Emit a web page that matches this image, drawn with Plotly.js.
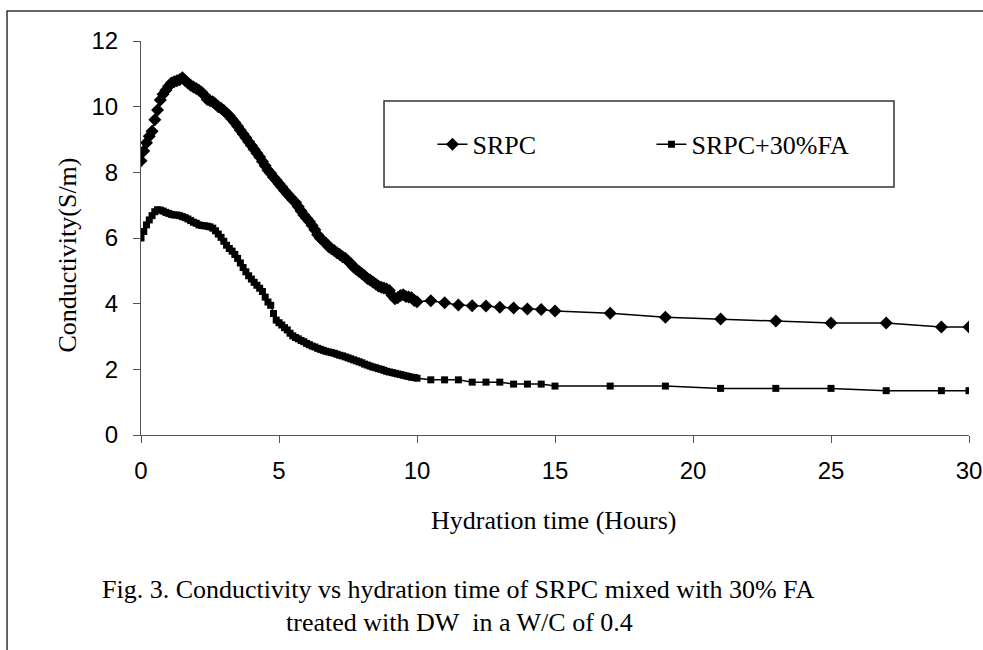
<!DOCTYPE html>
<html>
<head>
<meta charset="utf-8">
<script src="https://cdn.plot.ly/plotly-3.0.1.min.js"></script>
<style>
html,body{margin:0;padding:0;background:#fff;}
#chart{width:983px;height:650px;}
</style>
</head>
<body>
<div id="chart"></div>
<script>
// Hydration time (hours)
const timeSRPC = [0,0.1,0.2,0.3,0.4,0.5,0.6,0.7,0.8,0.9,1.0,1.1,1.2,1.3,1.4,1.5,1.6,1.7,1.8,1.9,
  2.0,2.1,2.2,2.3,2.4,2.5,2.6,2.7,2.8,2.9,3.0,3.1,3.2,3.3,3.4,3.5,3.6,3.7,3.8,3.9,
  4.0,4.1,4.2,4.3,4.4,4.5,4.6,4.7,4.8,4.9,5.0,5.1,5.2,5.3,5.4,5.5,5.6,5.7,5.8,5.9,
  6.0,6.1,6.2,6.3,6.4,6.5,6.6,6.7,6.8,6.9,7.0,7.1,7.2,7.3,7.4,7.5,7.6,7.7,7.8,7.9,
  8.0,8.1,8.2,8.3,8.4,8.5,8.6,8.7,8.8,8.9,9.0,9.1,9.2,9.3,9.4,9.5,9.6,9.7,9.8,9.9,
  10.0,10.5,11,11.5,12,12.5,13,13.5,14,14.5,15,17,19,21,23,25,27,29,30];
// Conductivity (S/m), SRPC
const condSRPC = [8.35,8.65,8.9,9.1,9.25,9.6,9.9,10.2,10.38,10.5,10.62,10.72,10.76,10.79,10.82,10.88,10.8,10.72,10.65,10.6,
  10.55,10.5,10.44,10.35,10.22,10.18,10.15,10.08,10.0,9.95,9.88,9.8,9.72,9.62,9.52,9.4,9.28,9.17,9.05,8.93,
  8.82,8.7,8.58,8.47,8.33,8.2,8.06,7.97,7.85,7.76,7.65,7.55,7.45,7.35,7.26,7.16,7.08,6.95,6.82,6.7,
  6.6,6.5,6.38,6.25,6.1,5.99,5.92,5.84,5.73,5.67,5.62,5.55,5.5,5.43,5.38,5.3,5.22,5.12,5.05,4.98,
  4.92,4.85,4.77,4.72,4.66,4.6,4.54,4.5,4.48,4.45,4.4,4.25,4.15,4.18,4.25,4.27,4.22,4.2,4.18,4.1,
  4.06,4.09,4.03,3.96,3.94,3.93,3.89,3.87,3.84,3.82,3.78,3.71,3.59,3.53,3.47,3.41,3.41,3.29,3.29];

const timeFA = [0,0.1,0.2,0.3,0.4,0.5,0.6,0.7,0.8,0.9,1.0,1.1,1.2,1.3,1.4,1.5,1.6,1.7,1.8,1.9,
  2.0,2.1,2.2,2.3,2.4,2.5,2.6,2.7,2.8,2.9,3.0,3.1,3.2,3.3,3.4,3.5,3.6,3.7,3.8,3.9,
  4.0,4.1,4.2,4.3,4.4,4.5,4.6,4.7,4.8,4.9,5.0,5.1,5.2,5.3,5.4,5.5,5.6,5.7,5.8,5.9,
  6.0,6.1,6.2,6.3,6.4,6.5,6.6,6.7,6.8,6.9,7.0,7.1,7.2,7.3,7.4,7.5,7.6,7.7,7.8,7.9,
  8.0,8.1,8.2,8.3,8.4,8.5,8.6,8.7,8.8,8.9,9.0,9.1,9.2,9.3,9.4,9.5,9.6,9.7,9.8,9.9,
  10.0,10.5,11,11.5,12,12.5,13,13.5,14,14.5,15,17,19,21,23,25,27,29,30];
// Conductivity (S/m), SRPC+30%FA
const condFA = [6.0,6.2,6.4,6.55,6.68,6.8,6.86,6.85,6.82,6.78,6.75,6.72,6.7,6.7,6.68,6.65,6.62,6.58,6.53,6.48,
  6.45,6.4,6.38,6.37,6.36,6.34,6.3,6.22,6.12,6.02,5.9,5.78,5.68,5.6,5.5,5.38,5.24,5.1,4.97,4.85,
  4.75,4.65,4.56,4.47,4.37,4.2,4.05,3.95,3.7,3.5,3.42,3.35,3.27,3.2,3.1,3.02,2.97,2.93,2.88,2.84,
  2.79,2.75,2.71,2.68,2.64,2.61,2.58,2.55,2.53,2.51,2.49,2.46,2.43,2.41,2.38,2.35,2.32,2.29,2.26,2.23,
  2.2,2.16,2.13,2.1,2.07,2.05,2.02,2.0,1.97,1.94,1.92,1.9,1.88,1.86,1.84,1.82,1.8,1.78,1.76,1.75,
  1.73,1.68,1.68,1.68,1.61,1.61,1.61,1.55,1.55,1.55,1.49,1.49,1.49,1.42,1.42,1.42,1.35,1.35,1.35];

const seriesNames = ["SRPC", "SRPC+30%FA"];
const xTicks = [0,5,10,15,20,25,30];
const yTicks = [0,2,4,6,8,10,12];
const xTitle = "Hydration time (Hours)";
const yTitle = "Conductivity(S/m)";
const caption1 = "Fig. 3. Conductivity vs hydration time of SRPC mixed with 30% FA";
const caption2 = "treated with DW&nbsp;&nbsp;in a W/C of 0.4";

const serif = "Liberation Serif, Times New Roman, serif";
const sans = "Liberation Sans, Arial, sans-serif";

const traces = [
  {x: timeSRPC, y: condSRPC, name: seriesNames[0], type: "scatter", mode: "lines+markers",
   line: {color: "#000", width: 1.5}, marker: {symbol: "diamond", size: 10, color: "#000"}},
  {x: timeFA, y: condFA, name: seriesNames[1], type: "scatter", mode: "lines+markers",
   line: {color: "#000", width: 1.5}, marker: {symbol: "square", size: 7, color: "#000"}}
];

const layout = {
  width: 983, height: 650,
  margin: {l: 141, r: 14, t: 41, b: 215},
  paper_bgcolor: "#fff", plot_bgcolor: "#fff",
  showlegend: true,
  legend: {orientation: "h", x: 0.352, y: 0.738, xanchor: "left", yanchor: "middle",
    entrywidth: 174, entrywidthmode: "pixels",
    font: {family: serif, size: 26, color: "#000"}, bgcolor: "rgba(0,0,0,0)", borderwidth: 0},
  xaxis: {range: [0, 30], tickvals: xTicks, ticktext: xTicks.map(String),
    showgrid: false, zeroline: false, showline: true, linecolor: "#555", linewidth: 1,
    ticks: "outside", ticklen: 7, tickcolor: "#555", ticklabelstandoff: 7,
    tickfont: {family: sans, size: 24, color: "#000"}},
  yaxis: {range: [0, 12], tickvals: yTicks, ticktext: yTicks.map(String),
    showgrid: false, zeroline: false, showline: true, linecolor: "#555", linewidth: 1,
    ticks: "outside", ticklen: 7, tickcolor: "#555", ticklabelstandoff: 10,
    tickfont: {family: sans, size: 24, color: "#000"}},
  shapes: [
    {type: "rect", xref: "paper", yref: "paper", x0: -0.1618, x1: 1.06, y0: -0.6, y1: 1.0761,
     line: {color: "#333", width: 1.5}, fillcolor: "rgba(0,0,0,0)", layer: "below"},
    {type: "rect", xref: "paper", yref: "paper", x0: 0.2935, x1: 0.9094, y0: 0.6294, y1: 0.8477,
     line: {color: "#333", width: 1.5}, fillcolor: "rgba(0,0,0,0)", layer: "below"}
  ],
  annotations: [
    {text: yTitle, xref: "paper", yref: "paper", x: -0.0882, y: 0.458, xanchor: "center", yanchor: "middle",
     textangle: -90, showarrow: false, font: {family: serif, size: 26, color: "#000"}},
    {text: xTitle, xref: "paper", yref: "paper", x: 0.499, y: -0.218, xanchor: "center", yanchor: "middle",
     showarrow: false, font: {family: serif, size: 26, color: "#000"}},
    {text: caption1, xref: "paper", yref: "paper", x: 0.3830, y: -0.393, xanchor: "center", yanchor: "middle",
     showarrow: false, font: {family: serif, size: 26, color: "#000"}},
    {text: caption2, xref: "paper", yref: "paper", x: 0.385, y: -0.475, xanchor: "center", yanchor: "middle",
     showarrow: false, font: {family: serif, size: 26, color: "#000"}}
  ]
};

Plotly.newPlot("chart", traces, layout, {displayModeBar: false, staticPlot: true});
</script>
</body>
</html>
